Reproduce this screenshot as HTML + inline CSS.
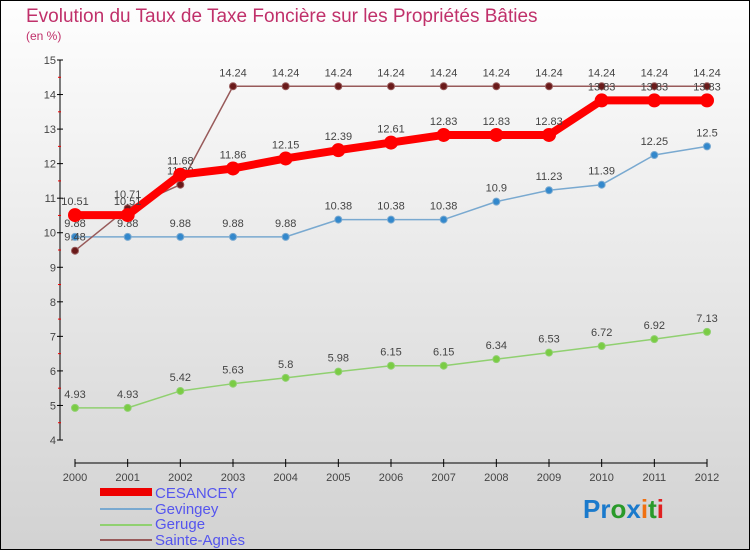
<!DOCTYPE html>
<html><head><meta charset="utf-8"><style>
body{margin:0}
#c{width:750px;height:550px;position:relative;box-sizing:border-box;border:1px solid #000;background:linear-gradient(#fefefe,#d2d2d2);font-family:"Liberation Sans",sans-serif;overflow:hidden}
</style></head><body>
<div id="c">
<svg id="s" width="750" height="550" style="position:absolute;left:-1px;top:-1px" font-family="Liberation Sans, sans-serif">
<text x="26" y="22" font-size="19" fill="#c0306a">Evolution du Taux de Taxe Foncière sur les Propriétés Bâties</text>
<text x="26" y="40" font-size="12" fill="#c0306a">(en %)</text>
<g id="ax"></g><g id="ser"></g>
<g font-size="15" fill="#5555ee">
<rect x="100" y="488" width="52" height="8" fill="#e00"/>
<text x="155" y="498">CESANCEY</text>
<line x1="100" y1="509" x2="152" y2="509" stroke="#79a9d0" stroke-width="2"/>
<text x="155" y="514">Gevingey</text>
<line x1="100" y1="525" x2="152" y2="525" stroke="#90d070" stroke-width="2"/>
<text x="155" y="529">Geruge</text>
<line x1="100" y1="540" x2="152" y2="540" stroke="#985a5a" stroke-width="2"/>
<text x="155" y="545">Sainte-Agnès</text>
</g>
<text x="583" y="518" font-size="26" font-weight="bold"><tspan fill="#1a7acc">Pr</tspan><tspan fill="#2a9a2a">o</tspan><tspan fill="#1a7acc">x</tspan><tspan fill="#f07010">i</tspan><tspan fill="#2a9a2a">t</tspan><tspan fill="#e02020">i</tspan></text>
</svg>
</div>
<script>
const years=[2000,2001,2002,2003,2004,2005,2006,2007,2008,2009,2010,2011,2012];
const yTicks=[4,5,6,7,8,9,10,11,12,13,14,15];
const cesancey=[10.51,10.51,11.68,11.86,12.15,12.39,12.61,12.83,12.83,12.83,13.83,13.83,13.83];
const gevingey=[9.88,9.88,9.88,9.88,9.88,10.38,10.38,10.38,10.9,11.23,11.39,12.25,12.5];
const geruge=[4.93,4.93,5.42,5.63,5.8,5.98,6.15,6.15,6.34,6.53,6.72,6.92,7.13];
const sainteAgnes=[9.48,10.71,11.39,14.24,14.24,14.24,14.24,14.24,14.24,14.24,14.24,14.24,14.24];
const NS="http://www.w3.org/2000/svg";
const X=i=>75+i*(632/(years.length-1));
const Y=v=>440-(v-4)*(380/11);
function mk(p,t,a){const e=document.createElementNS(NS,t);for(const k in a)e.setAttribute(k,a[k]);p.appendChild(e);return e;}
const ax=document.getElementById('ax'),ser=document.getElementById('ser');
const ya=mk(ax,'line',{x1:60,y1:Y(15),x2:60,y2:Y(4),stroke:'#000'});


yTicks.forEach(v=>{
 mk(ax,'line',{x1:57,y1:Y(v),x2:63,y2:Y(v),stroke:'#000'});
 if(v<15)mk(ax,'line',{x1:58,y1:Y(v+0.5),x2:61,y2:Y(v+0.5),stroke:'#e00'});
 const t=mk(ax,'text',{x:56,y:Y(v)+4,'font-size':11,fill:'#444','text-anchor':'end'});t.textContent=v;
 
 
});
const xa=mk(ax,'line',{x1:75,y1:463,x2:707,y2:463,stroke:'#000'});


years.forEach((y,i)=>{
 mk(ax,'line',{x1:X(i),y1:459,x2:X(i),y2:467,stroke:'#000'});
 const t=mk(ax,'text',{x:X(i),y:481,'font-size':11,fill:'#444','text-anchor':'middle'});t.textContent=y;
 
 
});
function series(d,name,col,w,r,dot){
 const g=mk(ser,'g',{});
 
 
 mk(g,'polyline',{points:d.map((v,i)=>X(i)+','+Y(v)).join(' '),fill:'none',stroke:col,'stroke-width':w,'stroke-linejoin':'round'});
 d.forEach((v,i)=>{
  const c=mk(g,'circle',{cx:X(i),cy:Y(v),r:r,fill:dot,stroke:col,'stroke-width':1});
  
  
  const t=mk(g,'text',{x:X(i),y:Y(v)-10,'font-size':11,fill:'#444','text-anchor':'middle'});t.textContent=v;
  
  
 });
}
series(geruge,'geruge','#90d070',1.5,3.5,'#7acc44');
series(gevingey,'gevingey','#79a9d0',1.5,3.5,'#3388cc');
series(sainteAgnes,'sainte-agnes','#985a5a',1.5,3.5,'#6a1a1a');
series(cesancey,'cesancey','#f00',8,6.5,'#f00');
</script>
</body></html>
